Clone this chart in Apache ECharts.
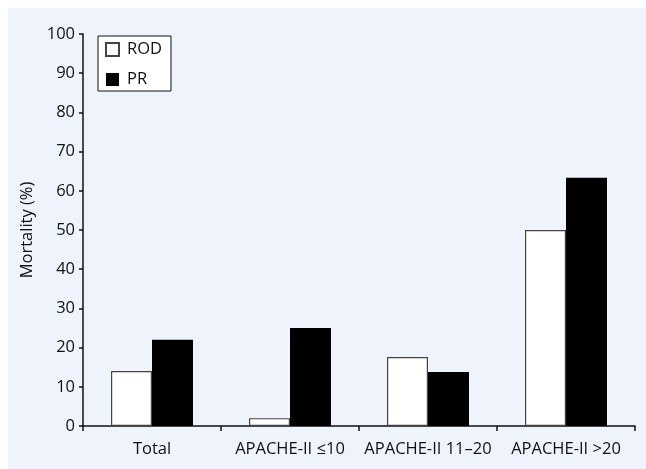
<!DOCTYPE html>
<html>
<head>
<meta charset="utf-8">
<script src="https://cdn.jsdelivr.net/npm/echarts@6/dist/echarts.min.js"></script>
<style>
html,body{margin:0;padding:0;background:#fff;}
#main{width:646px;height:469px;}
</style>
</head>
<body>
<div id="main"></div>
<script>
const categories = ['Total', 'APACHE-II \u226410', 'APACHE-II 11\u201320', 'APACHE-II >20'];
const rodValues = [14, 2, 17.6, 50];
const prValues = [22, 25, 13.8, 63.3];
const yTicks = {min: 0, max: 100, interval: 10};
const yAxisName = 'Mortality (%)';

const font = 'Open Sans';
const fs = 16.5;
const chart = echarts.init(document.getElementById('main'), null, {renderer: 'canvas'});
chart.setOption({
  backgroundColor: '#ffffff',
  animation: false,
  graphic: [{
    type: 'rect', z: -10, silent: true,
    shape: {x: 8, y: 8, width: 646, height: 469},
    style: {fill: '#eef3fc'}
  }],
  textStyle: {fontFamily: font, color: '#111'},
  grid: {left: 83, right: 11, top: 34, bottom: 43, containLabel: false},
  legend: {
    orient: 'vertical', left: 98, top: 36,
    backgroundColor: '#ffffff', borderColor: '#111', borderWidth: 1,
    padding: [5, 9, 3, 7], itemGap: 13, itemWidth: 13, itemHeight: 13,
    icon: 'rect',
    textStyle: {fontFamily: font, fontSize: fs, color: '#111', lineHeight: 16, padding: [0, 0, 0, 3]},
    data: ['ROD', 'PR']
  },
  xAxis: {
    type: 'category', data: categories,
    axisLine: {lineStyle: {color: '#111', width: 1.5}},
    axisTick: {show: true, alignWithLabel: false, length: 5, lineStyle: {color: '#111', width: 1.5}},
    axisLabel: {fontFamily: font, fontSize: fs, color: '#111', margin: 15, interval: 0}
  },
  yAxis: {
    type: 'value', min: yTicks.min, max: yTicks.max, interval: yTicks.interval,
    name: yAxisName, nameLocation: 'middle', nameGap: 44, nameRotate: 90,
    nameTextStyle: {fontFamily: font, fontSize: fs, color: '#111'},
    axisLine: {show: true, lineStyle: {color: '#111', width: 1.5}},
    axisTick: {show: true, length: 4, lineStyle: {color: '#111', width: 1.5}},
    axisLabel: {fontFamily: font, fontSize: fs, color: '#111', margin: 8},
    splitLine: {show: false}
  },
  series: [
    {name: 'ROD', type: 'bar', data: rodValues, barWidth: 41, barGap: '0%',
     itemStyle: {color: '#ffffff', borderColor: '#444', borderWidth: 1.2}},
    {name: 'PR', type: 'bar', data: prValues, barWidth: 41,
     itemStyle: {color: '#000000', borderColor: '#000', borderWidth: 0}}
  ]
});
</script>
</body>
</html>
